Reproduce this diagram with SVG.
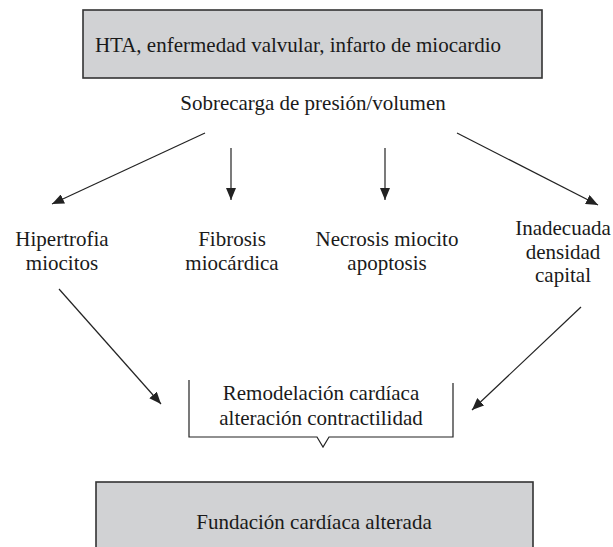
<svg xmlns="http://www.w3.org/2000/svg" width="613" height="547" viewBox="0 0 613 547" font-family="'Liberation Serif', 'Times New Roman', serif">
<defs>
<style>
text{font-family:"Liberation Serif","Times New Roman",serif;font-size:21px;fill:#1a1a1a;text-anchor:middle}
.box{fill:#d1d2d4;stroke:#333;stroke-width:1.6}
.ln{stroke:#222;stroke-width:1.2;fill:none}
</style>
<marker id="ah" viewBox="0 0 12 10" refX="12" refY="5" markerWidth="12" markerHeight="10" markerUnits="userSpaceOnUse" orient="auto">
<path d="M0,0 L12,5 L0,10 z" fill="#222"/>
</marker>
</defs>
<g id="n-top">
<rect class="box" x="83" y="10" width="459" height="68"/>
<text x="298" y="52">HTA, enfermedad valvular, infarto de miocardio</text>
</g>
<g id="n-sobrecarga">
<text x="313" y="110">Sobrecarga de presión/volumen</text>
</g>
<g id="n-hipertrofia">
<text x="62" y="246">Hipertrofia</text>
<text x="62" y="270">miocitos</text>
</g>
<g id="n-fibrosis">
<text x="232" y="246">Fibrosis</text>
<text x="232" y="270">miocárdica</text>
</g>
<g id="n-necrosis">
<text x="387" y="246">Necrosis miocito</text>
<text x="387" y="270">apoptosis</text>
</g>
<g id="n-inadecuada">
<text x="563" y="235">Inadecuada</text>
<text x="563" y="259">densidad</text>
<text x="563" y="282">capital</text>
</g>
<g id="n-remodelacion">
<path class="ln" d="M189,380 V437 H317 L323,447 L329,437 H453 V383"/>
<text x="321" y="400">Remodelación cardíaca</text>
<text x="321" y="425">alteración contractilidad</text>
</g>
<g id="n-fundacion">
<rect class="box" x="96" y="482" width="437" height="80"/>
<text x="314" y="529">Fundación cardíaca alterada</text>
</g>
<g id="connectors">
<line class="ln" x1="205" y1="133" x2="52" y2="204" marker-end="url(#ah)"/>
<line class="ln" x1="231" y1="148" x2="231" y2="200" marker-end="url(#ah)"/>
<line class="ln" x1="385" y1="148" x2="385" y2="200" marker-end="url(#ah)"/>
<line class="ln" x1="457" y1="133" x2="598" y2="205" marker-end="url(#ah)"/>
<line class="ln" x1="59" y1="289" x2="161" y2="404" marker-end="url(#ah)"/>
<line class="ln" x1="581" y1="307" x2="472" y2="410" marker-end="url(#ah)"/>
</g>
</svg>
